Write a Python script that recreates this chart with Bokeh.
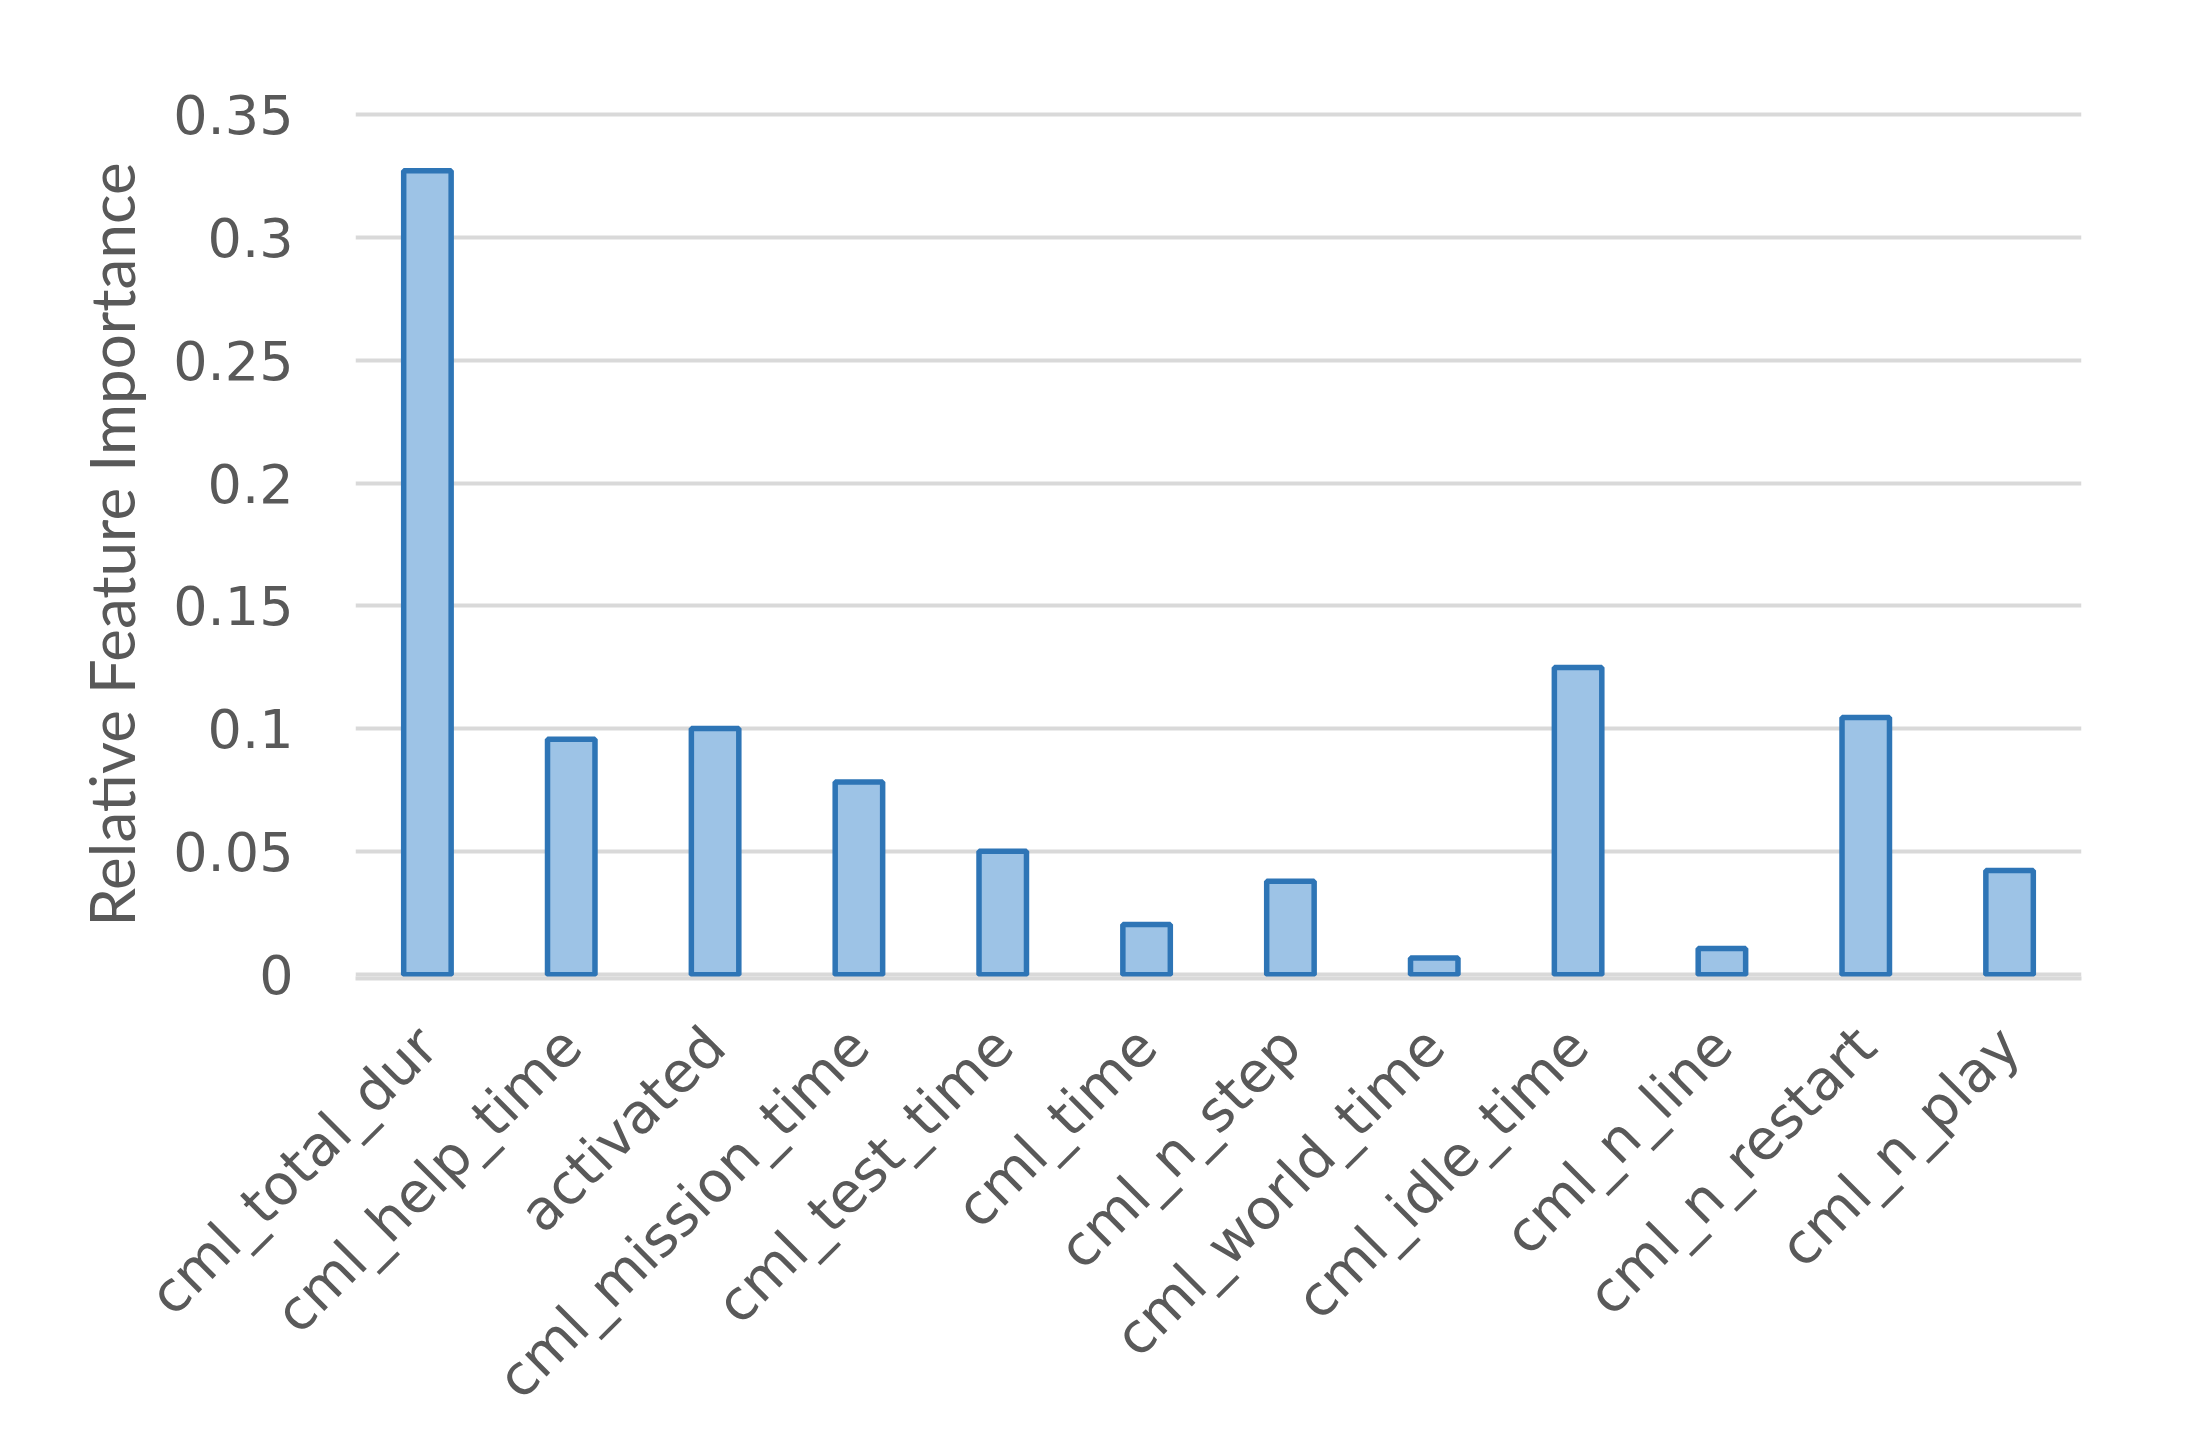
from bokeh.plotting import figure
from bokeh.models import Range1d, FactorRange, FixedTicker, NumeralTickFormatter, ColumnDataSource
from bokeh.embed import file_html
from bokeh.resources import INLINE
import math

features = ["cml_total_dur", "cml_help_time", "activated", "cml_mission_time",
            "cml_test_time", "cml_time", "cml_n_step", "cml_world_time",
            "cml_idle_time", "cml_n_line", "cml_n_restart", "cml_n_play"]
importance = [0.327, 0.0958, 0.1002, 0.0784, 0.0503, 0.0205, 0.0381, 0.0068,
              0.125, 0.0107, 0.1046, 0.0424]
y_ticks = [0, 0.05, 0.1, 0.15, 0.2, 0.25, 0.3, 0.35]
y_title = "Relative Feature Importance"

TEXT = "#595959"
GRID = "#D9D9D9"

p = figure(width=2172, height=1437, output_backend="svg", toolbar_location=None,
           x_range=FactorRange(*features), y_range=Range1d(-0.0015, 0.3515),
           min_border_left=355, min_border_right=91, min_border_top=110,
           min_border_bottom=459)
p.outline_line_color = None
p.background_fill_color = "white"
p.border_fill_color = "white"

src = ColumnDataSource(dict(x=features, top=importance))
p.vbar(x="x", top="top", bottom=0, width=0.33, source=src,
       fill_color="#9DC3E6", line_color="#2E75B6", line_width=5.5)

p.xgrid.grid_line_color = None
p.ygrid.grid_line_color = GRID
p.ygrid.grid_line_width = 4
p.ygrid.ticker = FixedTicker(ticks=y_ticks)

p.yaxis.ticker = FixedTicker(ticks=y_ticks)
p.yaxis.formatter = NumeralTickFormatter(format="0.[00]")
p.yaxis.axis_line_color = None
p.yaxis.major_tick_line_color = None
p.yaxis.minor_tick_line_color = None
p.yaxis.major_label_text_font = "DejaVu Sans"
p.yaxis.major_label_text_font_size = "54px"
p.yaxis.major_label_text_color = TEXT
p.yaxis.major_label_standoff = 56
p.yaxis.axis_label = y_title
p.yaxis.axis_label_text_font = "Lato"
p.yaxis.axis_label_text_font_size = "62px"
p.yaxis.axis_label_text_font_style = "normal"
p.yaxis.axis_label_text_color = TEXT
p.yaxis.axis_label_standoff = 22

p.xaxis.axis_line_color = GRID
p.xaxis.axis_line_width = 4
p.xaxis.major_tick_line_color = None
p.xaxis.minor_tick_line_color = None
p.xaxis.major_label_orientation = math.pi / 4
p.xaxis.major_label_text_font = "DejaVu Sans"
p.xaxis.major_label_text_font_size = "56px"
p.xaxis.major_label_text_color = TEXT
p.xaxis.major_label_standoff = 52

open("out.html", "w").write(file_html(p, INLINE))
